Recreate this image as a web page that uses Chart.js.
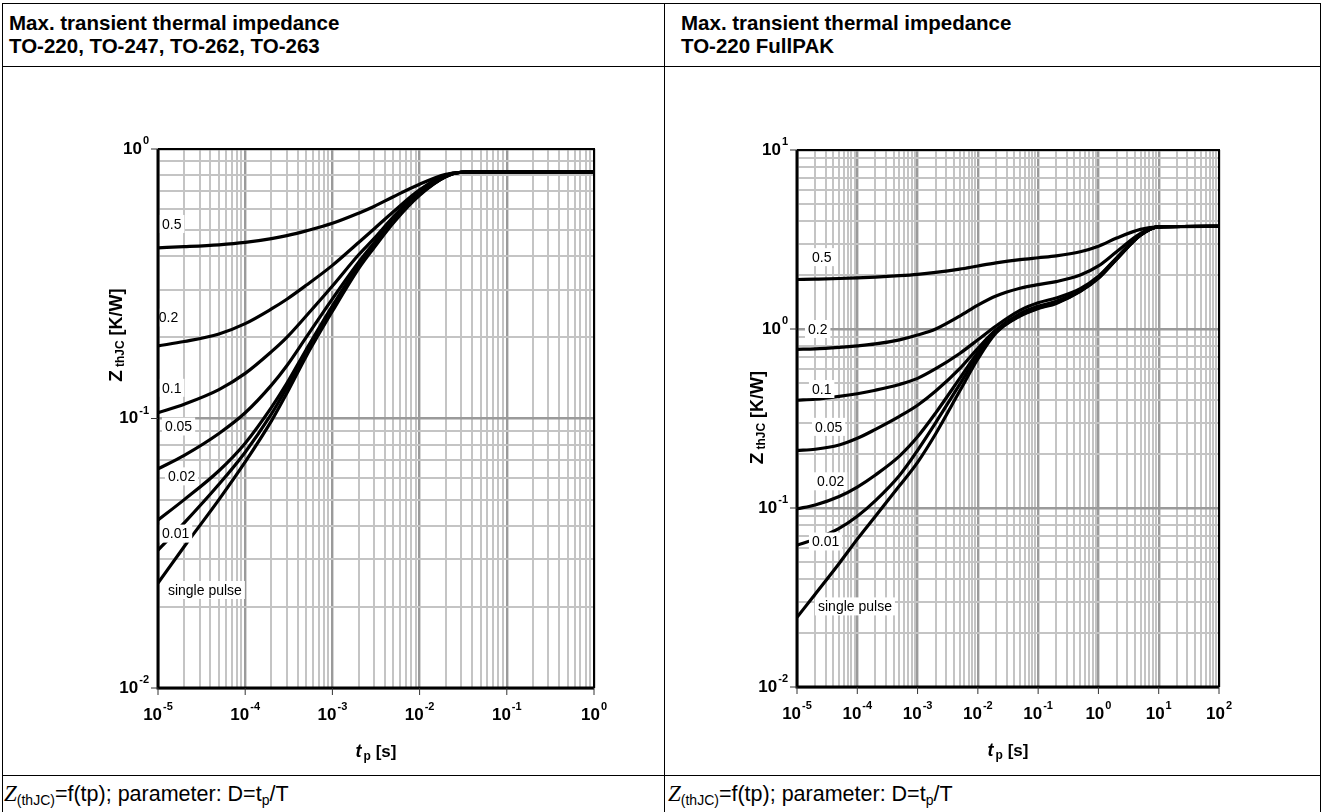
<!DOCTYPE html>
<html>
<head>
<meta charset="utf-8">
<script src="https://cdn.jsdelivr.net/npm/chart.js@4/dist/chart.umd.min.js"></script>
<style>
  body { margin: 0; background: #fff; }
  #page { position: relative; width: 1324px; height: 812px; overflow: hidden; font-family: "Liberation Sans", Arial, sans-serif; }
  .ln { position: absolute; background: #000; }
  .head { position: absolute; font-weight: bold; font-size: 20.5px; line-height: 23px; color: #000; }
  .foot { position: absolute; font-size: 21.5px; color: #000; white-space: nowrap; }
  .foot i { font-family: "Liberation Serif", "Times New Roman", serif; font-size: 23px; }
  .foot sub { font-size: 14px; vertical-align: -4px; }
  canvas { position: absolute; }
</style>
</head>
<body>
<div id="page">
  <div class="ln" style="left:2px;top:3px;width:1319px;height:1px"></div>
  <div class="ln" style="left:2px;top:66px;width:1319px;height:1px"></div>
  <div class="ln" style="left:2px;top:775px;width:1319px;height:1px"></div>
  <div class="ln" style="left:2px;top:3px;width:1px;height:809px"></div>
  <div class="ln" style="left:664px;top:3px;width:1px;height:809px"></div>
  <div class="ln" style="left:1320px;top:3px;width:1px;height:809px"></div>

  <div class="head" style="left:9px;top:11px">Max. transient thermal impedance<br>TO-220, TO-247, TO-262, TO-263</div>
  <div class="head" style="left:681px;top:11px">Max. transient thermal impedance<br>TO-220 FullPAK</div>

  <div class="foot" style="left:4px;top:781px"><i>Z</i><sub>(thJC)</sub>=f(tp); parameter: D=t<sub>p</sub>/T</div>
  <div class="foot" style="left:668px;top:781px"><i>Z</i><sub>(thJC)</sub>=f(tp); parameter: D=t<sub>p</sub>/T</div>

  <canvas id="left" width="660" height="700" style="left:3px;top:70px"></canvas>
  <canvas id="right" width="654" height="700" style="left:666px;top:70px"></canvas>
</div>

<script>
// curve names (duty cycle D)
const names = ["0.5", "0.2", "0.1", "0.05", "0.02", "0.01", "single pulse"];

// TO-220 / TO-247 / TO-262 / TO-263 : pulse time tp [s]
const tLeft = [1e-5, 2e-5, 5e-5, 1e-4, 2e-4, 3e-4, 5e-4, 1e-3, 2e-3, 3e-3, 5e-3, 1e-2, 2e-2, 3e-2, 5e-2, 1e-1, 1];
// ZthJC [K/W]
const zLeft05 = [0.43, 0.434, 0.441, 0.45, 0.465, 0.477, 0.497, 0.53, 0.578, 0.612, 0.665, 0.74, 0.805, 0.82, 0.823, 0.823, 0.823];
const zLeft02 = [0.186, 0.193, 0.206, 0.225, 0.255, 0.277, 0.312, 0.37, 0.45, 0.505, 0.585, 0.705, 0.80, 0.82, 0.823, 0.823, 0.823];
const zLeft01 = [0.105, 0.113, 0.128, 0.147, 0.177, 0.2, 0.24, 0.31, 0.405, 0.465, 0.56, 0.70, 0.80, 0.82, 0.823, 0.823, 0.823];
const zLeft005 = [0.065, 0.073, 0.088, 0.105, 0.133, 0.157, 0.2, 0.278, 0.38, 0.448, 0.548, 0.69, 0.795, 0.82, 0.823, 0.823, 0.823];
const zLeft002 = [0.042, 0.05, 0.064, 0.081, 0.11, 0.135, 0.18, 0.262, 0.37, 0.44, 0.54, 0.68, 0.79, 0.82, 0.823, 0.823, 0.823];
const zLeft001 = [0.0325, 0.041, 0.057, 0.075, 0.104, 0.13, 0.175, 0.257, 0.366, 0.436, 0.537, 0.677, 0.79, 0.82, 0.823, 0.823, 0.823];
const zLeftSp = [0.0245, 0.0335, 0.05, 0.069, 0.098, 0.124, 0.17, 0.25, 0.36, 0.43, 0.532, 0.673, 0.79, 0.82, 0.823, 0.823, 0.823];

// TO-220 FullPAK
const tRight = [1e-5, 2e-5, 5e-5, 1e-4, 2e-4, 5e-4, 1e-3, 2e-3, 5e-3, 1e-2, 2e-2, 5e-2, 1e-1, 2e-1, 5e-1, 1, 2, 5, 10, 100];
const zRight05 = [1.89, 1.9, 1.915, 1.93, 1.95, 1.985, 2.02, 2.07, 2.16, 2.25, 2.34, 2.44, 2.5, 2.56, 2.7, 2.9, 3.22, 3.6, 3.72, 3.75];
const zRight02 = [0.77, 0.775, 0.79, 0.805, 0.825, 0.87, 0.925, 1.0, 1.18, 1.36, 1.53, 1.69, 1.77, 1.84, 2.0, 2.25, 2.7, 3.42, 3.72, 3.75];
const zRight01 = [0.40, 0.405, 0.42, 0.435, 0.455, 0.49, 0.53, 0.6, 0.73, 0.87, 1.04, 1.27, 1.4, 1.49, 1.68, 1.97, 2.5, 3.38, 3.72, 3.75];
const zRight005 = [0.21, 0.213, 0.225, 0.245, 0.275, 0.325, 0.375, 0.45, 0.6, 0.78, 0.99, 1.22, 1.34, 1.43, 1.65, 1.95, 2.48, 3.36, 3.72, 3.75];
const zRight002 = [0.099, 0.104, 0.116, 0.131, 0.153, 0.195, 0.25, 0.34, 0.53, 0.74, 0.97, 1.2, 1.32, 1.41, 1.64, 1.94, 2.47, 3.35, 3.72, 3.75];
const zRight001 = [0.062, 0.067, 0.077, 0.09, 0.11, 0.152, 0.21, 0.3, 0.49, 0.71, 0.96, 1.19, 1.31, 1.4, 1.63, 1.93, 2.46, 3.35, 3.72, 3.75];
const zRightSp = [0.0245, 0.033, 0.049, 0.067, 0.09, 0.133, 0.18, 0.26, 0.45, 0.68, 0.95, 1.18, 1.3, 1.39, 1.62, 1.92, 2.45, 3.34, 3.72, 3.75];

// decade exponents used for the tick labels
const xExpLeft = [-5, -4, -3, -2, -1, 0];
const yExpLeft = [-2, -1, 0];
const xExpRight = [-5, -4, -3, -2, -1, 0, 1, 2];
const yExpRight = [-2, -1, 0, 1];

// where the curve labels sit (tp, Z)
const labelAtLeft = [[1.11e-5, 0.527], [1.02e-5, 0.237], [1.11e-5, 0.130], [1.2e-5, 0.0934], [1.3e-5, 0.061], [1.11e-5, 0.0374], [1.3e-5, 0.0231]];
const labelAtRight = [[1.77e-5, 2.52], [1.52e-5, 1.0], [1.77e-5, 0.462], [1.99e-5, 0.284], [2.15e-5, 0.141], [1.77e-5, 0.065], [2.23e-5, 0.0282]];

const FONT = '"Liberation Sans", Arial, sans-serif';

function isDecade(v) {
  const l = Math.log10(v);
  return Math.abs(l - Math.round(l)) < 1e-6;
}

function logTicks(scale) {
  const lo = Math.round(Math.log10(scale.min)), hi = Math.round(Math.log10(scale.max));
  const ticks = [];
  for (let e = lo; e < hi; e++) {
    for (let k = 1; k < 10; k++) ticks.push({ value: +(k * Math.pow(10, e)).toPrecision(3) });
  }
  ticks.push({ value: Math.pow(10, hi) });
  scale.ticks = ticks;
}

function pow10(ctx, x, y, exp, align) {
  ctx.font = 'bold 17px ' + FONT;
  const wb = ctx.measureText('10').width;
  ctx.font = 'bold 11px ' + FONT;
  const we = ctx.measureText(String(exp)).width;
  let x0 = align === 'right' ? x - wb - we - 1 : x - (wb + we + 1) / 2;
  ctx.textBaseline = 'middle';
  ctx.textAlign = 'left';
  ctx.font = 'bold 17px ' + FONT;
  ctx.fillText('10', x0, y);
  ctx.font = 'bold 11px ' + FONT;
  ctx.fillText(String(exp), x0 + wb + 1, y - 8);
}

const deco = {
  id: 'deco',
  afterDatasetsDraw(chart, args, o) {
    const ctx = chart.ctx, xs = chart.scales.x, ys = chart.scales.y, a = chart.chartArea;
    ctx.save();
    // curve labels on white boxes
    ctx.font = '14px ' + FONT;
    ctx.textBaseline = 'middle';
    ctx.textAlign = 'left';
    names.forEach((name, i) => {
      const p = o.labelAt[i];
      const x = xs.getPixelForValue(p[0]), y = ys.getPixelForValue(p[1]);
      const w = ctx.measureText(name).width;
      ctx.fillStyle = '#fff';
      ctx.fillRect(x - 3, y - 9, w + 6, 18);
      ctx.fillStyle = '#000';
      ctx.fillText(name, x, y + 1);
    });
    // frame
    ctx.strokeStyle = '#000';
    ctx.lineWidth = 2;
    ctx.beginPath();
    ctx.moveTo(a.left, a.top); ctx.lineTo(a.right, a.top); ctx.lineTo(a.right, a.bottom);
    ctx.stroke();
    ctx.lineWidth = 3;
    ctx.beginPath();
    ctx.moveTo(a.left, a.top); ctx.lineTo(a.left, a.bottom); ctx.lineTo(a.right, a.bottom);
    ctx.stroke();
    // decade tick marks and labels
    ctx.lineWidth = 1;
    ctx.strokeStyle = '#333';
    ctx.fillStyle = '#000';
    o.xExp.forEach(e => {
      const x = xs.getPixelForValue(Math.pow(10, e));
      ctx.beginPath(); ctx.moveTo(x, a.bottom); ctx.lineTo(x, a.bottom + 7); ctx.stroke();
      pow10(ctx, x, a.bottom + 27, e, 'center');
    });
    o.yExp.forEach(e => {
      const y = ys.getPixelForValue(Math.pow(10, e));
      ctx.beginPath(); ctx.moveTo(a.left - 7, y); ctx.lineTo(a.left, y); ctx.stroke();
      pow10(ctx, a.left - 9, y, e, 'right');
    });
    // x axis title: tp [s]
    const cx = (a.left + a.right) / 2, ty = a.bottom + 69;
    ctx.textBaseline = 'alphabetic';
    ctx.font = 'italic bold 18px ' + FONT;
    const w1 = ctx.measureText('t').width;
    ctx.font = 'bold 12px ' + FONT;
    const w2 = ctx.measureText('p').width;
    ctx.font = 'bold 17px ' + FONT;
    const w3 = ctx.measureText(' [s]').width;
    let x0 = cx - (w1 + w2 + w3 + 2) / 2;
    ctx.font = 'italic bold 18px ' + FONT; ctx.fillText('t', x0, ty);
    ctx.font = 'bold 12px ' + FONT; ctx.fillText('p', x0 + w1 + 2, ty + 3);
    ctx.font = 'bold 17px ' + FONT; ctx.fillText(' [s]', x0 + w1 + w2 + 2, ty);
    // y axis title: ZthJC [K/W]
    ctx.save();
    ctx.translate(a.left - o.yTitleGap, ys.getPixelForValue(o.yTitleAt));
    ctx.rotate(-Math.PI / 2);
    ctx.font = 'bold 19px ' + FONT;
    const v1 = ctx.measureText('Z').width;
    ctx.font = 'bold 12px ' + FONT;
    const v2 = ctx.measureText('thJC').width;
    ctx.font = 'bold 18px ' + FONT;
    const v3 = ctx.measureText(' [K/W]').width;
    let y0 = -(v1 + v2 + v3 + 3) / 2;
    ctx.font = 'bold 19px ' + FONT; ctx.fillText('Z', y0, 0);
    ctx.font = 'bold 12px ' + FONT; ctx.fillText('thJC', y0 + v1 + 3, 2);
    ctx.font = 'bold 18px ' + FONT; ctx.fillText(' [K/W]', y0 + v1 + v2 + 3, 0);
    ctx.restore();
    ctx.restore();
  }
};

function makeChart(id, t, series, xMax, yMax, pad, xExp, yExp, labelAt, yTitleGap, yTitleAt) {
  const datasets = series.map((z, i) => ({
    label: names[i],
    data: t.map((tv, j) => ({ x: tv, y: z[j] })),
    borderColor: '#000',
    borderWidth: 3.2,
    pointRadius: 0,
    fill: false,
    cubicInterpolationMode: 'monotone'
  }));
  const gridOpts = {
    drawTicks: false,
    color: c => (c.tick && isDecade(c.tick.value)) ? '#9a9a9a' : '#c4c4c4',
    lineWidth: c => (c.tick && isDecade(c.tick.value)) ? 2.4 : 2
  };
  return new Chart(document.getElementById(id), {
    type: 'line',
    data: { datasets },
    plugins: [deco],
    options: {
      responsive: false,
      animation: false,
      layout: { padding: pad },
      plugins: {
        legend: { display: false },
        tooltip: { enabled: false },
        deco: { xExp, yExp, labelAt, yTitleGap, yTitleAt }
      },
      scales: {
        x: {
          type: 'logarithmic', min: 1e-5, max: xMax,
          afterBuildTicks: logTicks,
          ticks: { display: false, autoSkip: false },
          border: { display: false },
          grid: gridOpts
        },
        y: {
          type: 'logarithmic', min: 0.01, max: yMax,
          afterBuildTicks: logTicks,
          ticks: { display: false, autoSkip: false },
          border: { display: false },
          grid: gridOpts
        }
      }
    }
  });
}

makeChart('left', tLeft, [zLeft05, zLeft02, zLeft01, zLeft005, zLeft002, zLeft001, zLeftSp],
  1, 1, { left: 155, right: 69, top: 79, bottom: 82 }, xExpLeft, yExpLeft, labelAtLeft, 36, 0.204);
makeChart('right', tRight, [zRight05, zRight02, zRight01, zRight005, zRight002, zRight001, zRightSp],
  100, 10, { left: 131, right: 101, top: 80, bottom: 83 }, xExpRight, yExpRight, labelAtRight, 34, 0.32);
</script>
</body>
</html>
